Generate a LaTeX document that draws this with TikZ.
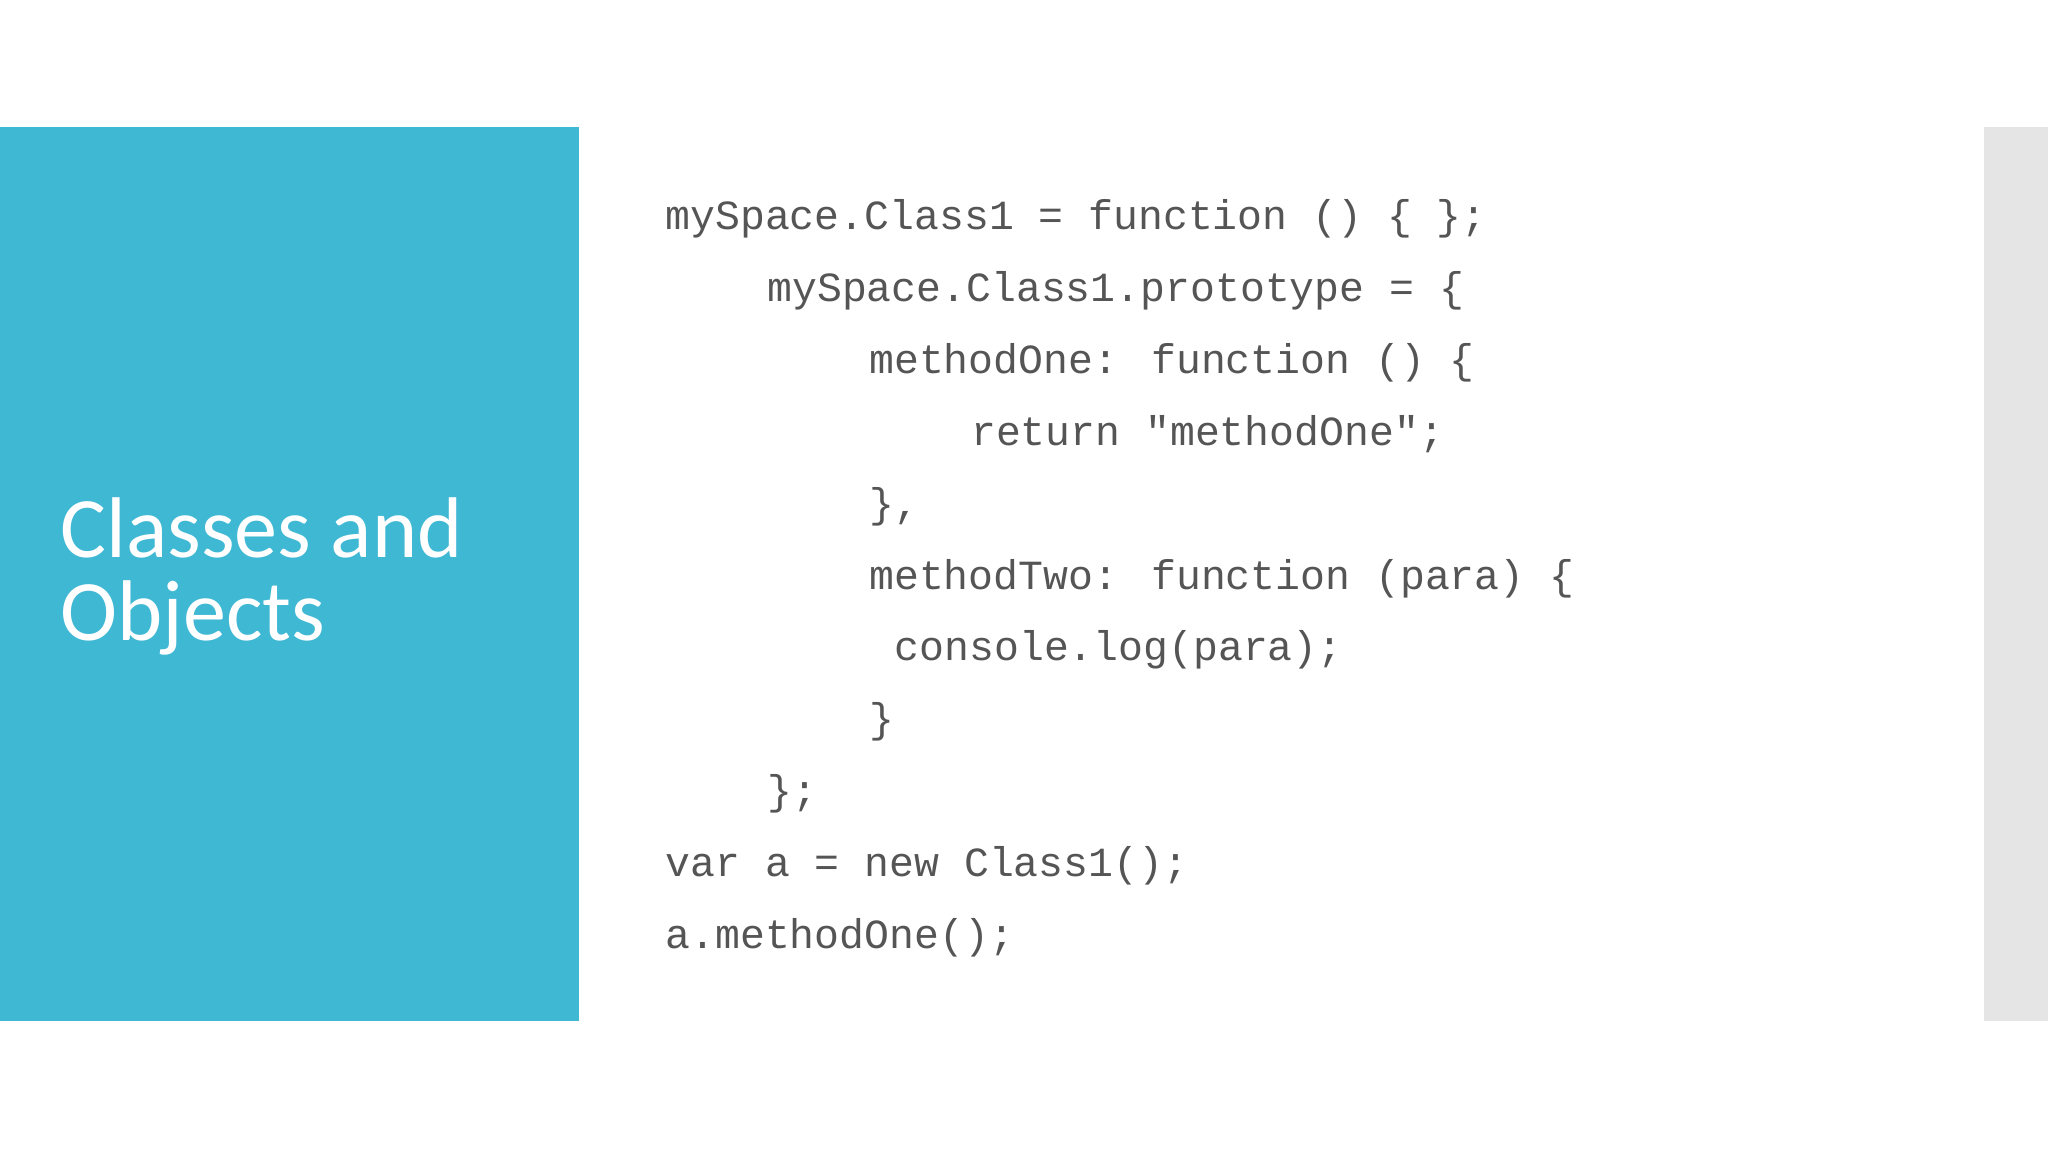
\documentclass[tikz,border=0pt]{standalone}
\usepackage{fontspec}
\setmainfont{Carlito}
\newfontfamily\codefont{Liberation Mono}
\definecolor{panelblue}{HTML}{3FB8D4}
\definecolor{panelgray}{HTML}{E5E5E5}
\definecolor{codegray}{HTML}{555555}
\begin{document}
\begin{tikzpicture}[x=0.01306cm,y=-0.01306cm,
  codeline/.style={anchor=base west,inner sep=0pt,text=codegray,font=\codefont\fontsize{11.8pt}{14pt}\selectfont},
  titletext/.style={anchor=base west,inner sep=0pt,text=white,align=left,font=\fontsize{24.5pt}{23.3pt}\selectfont}]
\useasboundingbox (0,0) rectangle (1568,882);
\fill[white] (0,0) rectangle (1568,882);
\fill[panelblue] (0,97) rectangle (443,782);
\fill[panelgray] (1519,97) rectangle (1568,782);
\node[titletext] (t1) at (46,427) {Classes and};
\node[titletext] (t2) at (46,490) {Objects};
\def\cw{19.5}
\node[codeline] (l1) at (509,176) {mySpace.Class1 = function () \{ \};};
\node[codeline] (l2) at (509+4*\cw,231) {mySpace.Class1.prototype = \{};
\node[codeline] (l3) at (509+8*\cw,286) {methodOne: function () \{};
\node[codeline] (l4) at (509+12*\cw,341) {return "methodOne";};
\node[codeline] (l5) at (509+8*\cw,396) {\},};
\node[codeline] (l6) at (509+8*\cw,451) {methodTwo: function (para) \{};
\node[codeline] (l7) at (509+9*\cw,506) {console.log(para);};
\node[codeline] (l8) at (509+8*\cw,561) {\}};
\node[codeline] (l9) at (509+4*\cw,616) {\};};
\node[codeline] (l10) at (509,671) {var a = new Class1();};
\node[codeline] (l11) at (509,726) {a.methodOne();};
\end{tikzpicture}
\end{document}
